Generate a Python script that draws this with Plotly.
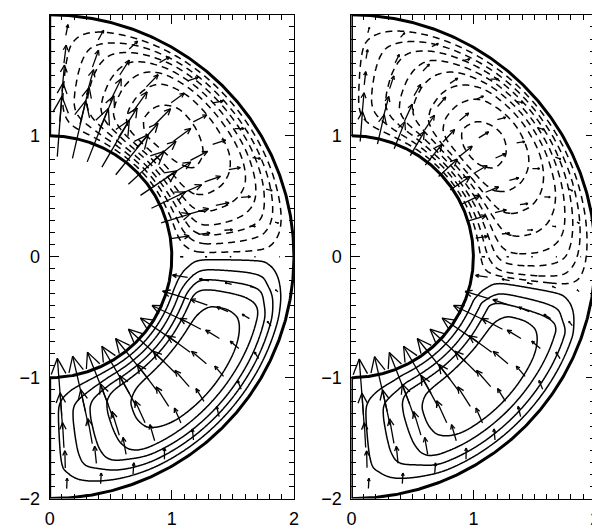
import numpy as np
import plotly.graph_objects as go

# ---------------- data ----------------
# radial profiles of the stream-function-like field (shell 1 <= r <= 2)
psi_r = [1.0, 1.05, 1.1, 1.15, 1.2, 1.25, 1.3, 1.4, 1.5, 1.6, 1.7, 1.75, 1.8, 1.85, 1.9, 1.95, 2.0]
psi_f_south = [0.0, 0.2, 0.39, 0.57, 0.76, 0.9, 0.96, 0.995, 1.0, 0.99, 0.94, 0.87, 0.7, 0.55, 0.36, 0.17, 0.0]
psi_f_north = [0.0, 0.22, 0.44, 0.63, 0.8, 0.91, 0.97, 1.0, 0.99, 0.95, 0.87, 0.8, 0.68, 0.53, 0.36, 0.17, 0.0]

# colatitude profile (degrees from the +y pole), left panel
left_th = [0, 4.6, 8.6, 13.2, 18.3, 23, 28, 34, 42, 58, 68, 74, 78.9, 82.4, 85.5, 88.5, 89.8,
           91, 94.5, 98, 101.5, 106.7, 120, 130, 140, 152, 160, 166, 172, 177, 180]
left_s = [0, -1, -2, -3, -4, -5, -6, -7, -7.45, -7, -6, -5, -4, -3, -2, -1, 0,
          1, 2, 3, 4, 5, 5.35, 5.4, 5.35, 5, 4, 3, 2, 1, 0]

# colatitude profile, right panel
right_th = [0, 2.5, 7, 12, 17, 22, 28, 34, 41, 50, 58, 67, 75, 83, 89, 93, 96, 97.7, 98.7,
            100, 103.5, 107, 110.5, 125, 135, 145, 155.7, 162, 169, 175, 180]
right_s = [0, -1, -2, -3, -4, -5, -6, -7, -8, -8.4, -8, -7, -6, -5, -4, -3, -2, -1, 0,
           1, 2, 3, 4, 4.35, 4.4, 4.35, 4, 3, 2, 1, 0]

neg_levels = [-8, -7, -6, -5, -4, -3, -2, -1]
pos_levels = [1, 2, 3, 4, 5]

# arrow field: nodes in radius and colatitude
arr_r = [1.08, 1.28, 1.48, 1.68, 1.88]
arr_th = [4.3, 12.9, 21.4, 30.0, 38.6, 47.1, 55.7, 64.3, 72.9, 81.4, 90.0,
          98.6, 107.1, 115.7, 124.3, 132.9, 141.4, 150.0, 158.6, 167.1, 175.7]
# radial component amplitude (by radius) and latitude pattern
left_vr_amp = [0.5, 0.32, 0.22, 0.15, 0.09]
left_vr_lat = [1.0, 0.98, 0.95, 0.9, 0.85, 0.8, 0.72, 0.62, 0.5, 0.3, 0.05,
               -0.25, -0.45, -0.6, -0.72, -0.8, -0.86, -0.9, -0.93, -0.95, -0.95]
right_vr_amp = [0.5, 0.32, 0.22, 0.15, 0.09]
right_vr_lat = [0.5, 0.5, 0.48, 0.46, 0.44, 0.42, 0.4, 0.36, 0.3, 0.2, 0.05,
                -0.2, -0.42, -0.6, -0.72, -0.8, -0.86, -0.9, -0.92, -0.93, -0.93]
# colatitudinal component
vt_amp = [0.0, 0.01, 0.02, 0.035, 0.05]
vt_lat = [0.2, 0.5, 0.8, 0.95, 1.0, 0.95, 0.85, 0.7, 0.5, 0.25, 0.0,
          -0.25, -0.5, -0.7, -0.85, -0.95, -1.0, -0.95, -0.8, -0.5, -0.2]

r_in, r_out = 1.0, 2.0
x_ticks = [0, 1, 2]
y_ticks = [-2, -1, 0, 1, 2]


# ---------------- helpers ----------------
def pchip(xn, yn, x):
    xn = np.asarray(xn, float)
    yn = np.asarray(yn, float)
    x = np.clip(np.asarray(x, float), xn[0], xn[-1])
    h = np.diff(xn)
    d = np.diff(yn) / h
    m = np.zeros_like(yn)
    for k in range(1, len(xn) - 1):
        if d[k - 1] * d[k] > 0:
            w1 = 2 * h[k] + h[k - 1]
            w2 = h[k] + 2 * h[k - 1]
            m[k] = (w1 + w2) / (w1 / d[k - 1] + w2 / d[k])
    m[0] = d[0]
    m[-1] = d[-1]
    idx = np.clip(np.searchsorted(xn, x) - 1, 0, len(h) - 1)
    t = (x - xn[idx]) / h[idx]
    h00 = 2 * t**3 - 3 * t**2 + 1
    h10 = t**3 - 2 * t**2 + t
    h01 = -2 * t**3 + 3 * t**2
    h11 = t**3 - t**2
    return h00 * yn[idx] + h10 * h[idx] * m[idx] + h01 * yn[idx + 1] + h11 * h[idx] * m[idx + 1]


gx = np.linspace(0, 2, 241)
gy = np.linspace(-2, 2, 481)
GX, GY = np.meshgrid(gx, gy)
GR = np.hypot(GX, GY)
GT = np.degrees(np.arctan2(GX, GY))


def field(th_nodes, s_nodes):
    outside = (GR < r_in) | (GR > r_out)
    fn = pchip(psi_r, psi_f_north, GR)
    fs = pchip(psi_r, psi_f_south, GR)
    fn[outside] = 0.0
    fs[outside] = 0.0
    s = pchip(th_nodes, s_nodes, GT)
    return fn * np.minimum(s, 0) + fs * np.maximum(s, 0)


def arrows(vr_amp, vr_lat):
    xs, ys = [], []
    for i, r in enumerate(arr_r):
        for j, thd in enumerate(arr_th):
            th = np.radians(thd)
            px, py = r * np.sin(th), r * np.cos(th)
            vr = vr_amp[i] * vr_lat[j]
            vt = vt_amp[i] * vt_lat[j]
            ux = vr * np.sin(th) + vt * np.cos(th)
            uy = vr * np.cos(th) - vt * np.sin(th)
            L = np.hypot(ux, uy)
            if L < 1e-4:
                continue
            tx, ty = px - ux / 2, py - uy / 2
            hx, hy = px + ux / 2, py + uy / 2
            xs += [tx, hx, None]
            ys += [ty, hy, None]
            hl = 0.3 * L
            bx, by = -ux / L, -uy / L
            for a in (np.radians(25), -np.radians(25)):
                cx = bx * np.cos(a) - by * np.sin(a)
                cy = bx * np.sin(a) + by * np.cos(a)
                xs += [hx, hx + hl * cx, None]
                ys += [hy, hy + hl * cy, None]
    return xs, ys


def boundary():
    t = np.radians(np.linspace(0, 180, 361))
    xs = list(r_in * np.sin(t)) + [None] + list(r_out * np.sin(t)) + [None, 0, 0, None, 0, 0]
    ys = list(r_in * np.cos(t)) + [None] + list(r_out * np.cos(t)) + [None, r_in, r_out, None, -r_in, -r_out]
    return xs, ys


fig = go.Figure()
panels = [("x", "y", left_th, left_s, left_vr_amp, left_vr_lat),
          ("x2", "y2", right_th, right_s, right_vr_amp, right_vr_lat)]
for xa, ya, th_n, s_n, va, vl in panels:
    z = field(th_n, s_n)
    zmin = float(np.nanmin(z))
    zmax = float(np.nanmax(z))
    nl = [v for v in neg_levels if v > zmin]
    pl = [v for v in pos_levels if v < zmax]
    fig.add_trace(go.Contour(x=gx, y=gy, z=z, xaxis=xa, yaxis=ya, showscale=False,
                             contours=dict(start=min(nl), end=max(nl), size=1, coloring="none"),
                             line=dict(color="black", width=1.5, dash="7px,5px", smoothing=1.0),
                             hoverinfo="skip"))
    fig.add_trace(go.Contour(x=gx, y=gy, z=z, xaxis=xa, yaxis=ya, showscale=False,
                             contours=dict(start=min(pl), end=max(pl), size=1, coloring="none"),
                             line=dict(color="black", width=1.5, smoothing=1.0),
                             hoverinfo="skip"))
    ax, ay = arrows(va, vl)
    fig.add_trace(go.Scatter(x=ax, y=ay, xaxis=xa, yaxis=ya, mode="lines",
                             line=dict(color="black", width=1.3), hoverinfo="skip", showlegend=False))
    bx, by = boundary()
    fig.add_trace(go.Scatter(x=bx, y=by, xaxis=xa, yaxis=ya, mode="lines",
                             line=dict(color="black", width=3), hoverinfo="skip", showlegend=False))

W, H = 600, 531
axis_common = dict(showgrid=False, zeroline=False, showline=True, linecolor="black", linewidth=1,
                   mirror="allticks", ticks="inside", ticklen=9, tickwidth=1, tickcolor="black",
                   tickfont=dict(family="Liberation Sans, Arial, sans-serif", size=18, color="black"),
                   minor=dict(ticks="inside", ticklen=5, tickwidth=1, tickcolor="black", dtick=0.1, showgrid=False))
ydom = [1 - 500 / H, 1 - 7 / H]
fig.update_layout(
    width=W, height=H, margin=dict(l=0, r=0, t=0, b=0),
    paper_bgcolor="white", plot_bgcolor="white", showlegend=False,
    xaxis=dict(axis_common, domain=[37.3 / W, 285.7 / W], range=[0, 2], tickvals=x_ticks, ticklabelstandoff=4),
    yaxis=dict(axis_common, domain=ydom, range=[-2, 2], tickvals=y_ticks, ticklabelstandoff=5),
    xaxis2=dict(axis_common, domain=[344.2 / W, 592.2 / W], range=[0, 2], tickvals=x_ticks, ticklabelstandoff=4,
                anchor="y2", ticklabeloverflow="allow"),
    yaxis2=dict(axis_common, domain=ydom, range=[-2, 2], tickvals=y_ticks, ticklabelstandoff=5, anchor="x2"),
)
fig.write_html("out.html")
